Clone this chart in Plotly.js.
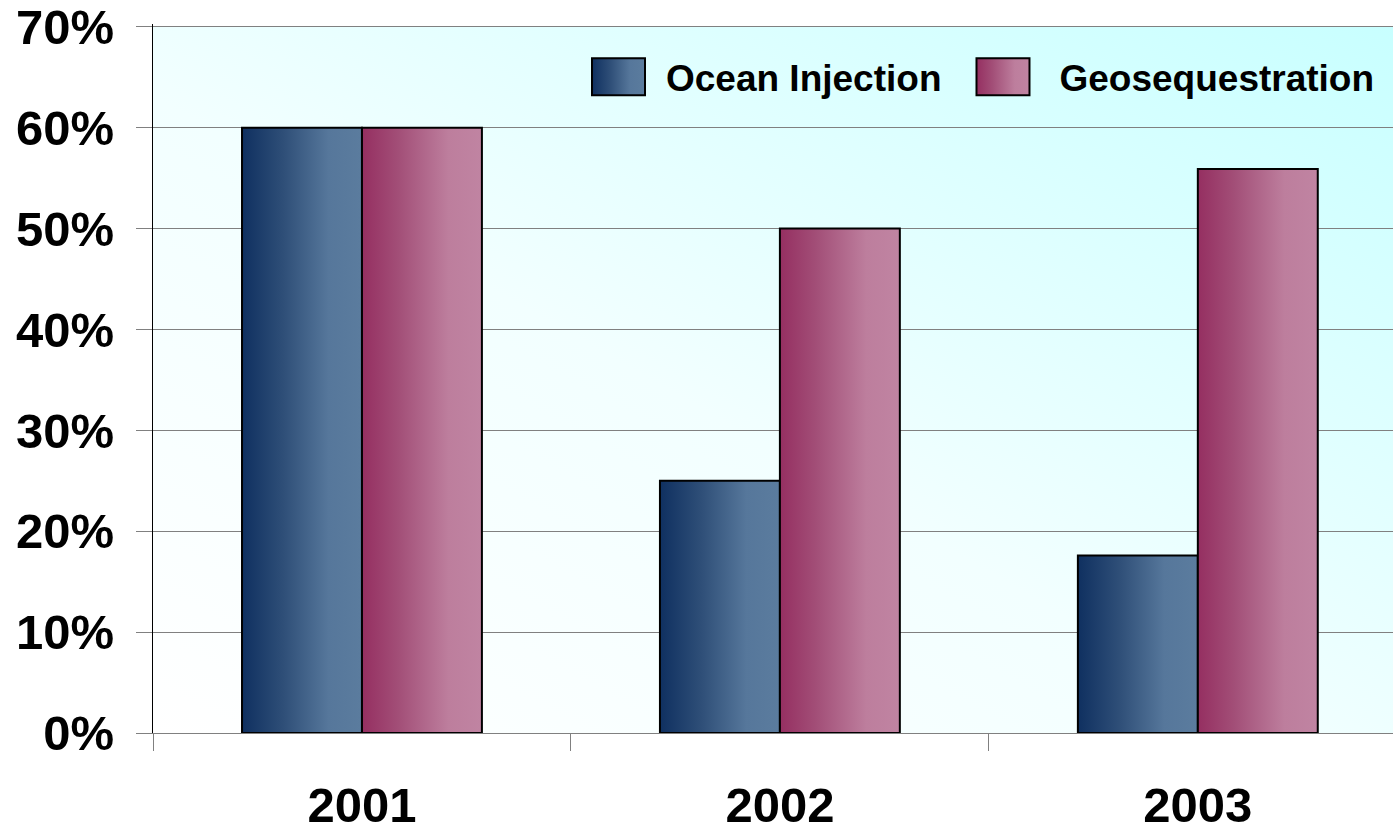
<!DOCTYPE html>
<html>
<head>
<meta charset="utf-8">
<script src="https://cdn.plot.ly/plotly-3.0.1.min.js"></script>
<style>
html,body{margin:0;padding:0;background:#fff;}
#chart{width:1393px;height:833px;}
</style>
</head>
<body>
<div id="chart"></div>
<script>
var years = ['2001', '2002', '2003'];
var oceanInjection = [0.60, 0.25, 0.176];
var geosequestration = [0.60, 0.50, 0.559];
var seriesNames = ['Ocean Injection', 'Geosequestration'];

var FONT = 'Arial, "Liberation Sans", sans-serif';

var bgSvg = '<svg xmlns="http://www.w3.org/2000/svg" width="100" height="100" viewBox="0 0 100 100" preserveAspectRatio="none">' +
  '<defs><linearGradient id="g" x1="0" y1="1" x2="1" y2="0">' +
  '<stop offset="0" stop-color="#ffffff"/><stop offset="0.45" stop-color="#f2ffff"/><stop offset="1" stop-color="#c8ffff"/>' +
  '</linearGradient></defs><rect x="0" y="0" width="100" height="100" fill="url(#g)"/></svg>';
var bgUri = 'data:image/svg+xml;charset=utf-8,' + encodeURIComponent(bgSvg);

var traces = [
  {type: 'bar', name: seriesNames[0], x: years, y: oceanInjection,
   marker: {color: '#3d5f86', line: {color: '#000', width: 2}}, hoverinfo: 'none'},
  {type: 'bar', name: seriesNames[1], x: years, y: geosequestration,
   marker: {color: '#ad5f85', line: {color: '#000', width: 2}}, hoverinfo: 'none'}
];

var layout = {
  width: 1393, height: 833,
  margin: {l: 153, r: 0, t: 24, b: 100, pad: 0},
  paper_bgcolor: '#ffffff',
  plot_bgcolor: 'rgba(0,0,0,0)',
  barmode: 'group',
  bargap: 0.426,
  bargroupgap: 0,
  font: {family: FONT, color: '#000', weight: 'bold'},
  images: [{
    source: bgUri, xref: 'paper', yref: 'paper', x: 0, y: 0.99718, sizex: 1, sizey: 0.99718,
    xanchor: 'left', yanchor: 'top', sizing: 'stretch', layer: 'below'
  }],
  xaxis: {
    type: 'category', range: [-0.5, 2.467],
    tickson: 'boundaries', ticks: 'outside', ticklen: 17, tickcolor: '#808080', tickwidth: 1,
    showline: true, linecolor: '#808080', linewidth: 1,
    showgrid: false, zeroline: false,
    tickfont: {size: 49, family: FONT, weight: 'bold', color: '#000'},
    ticklabelstandoff: 29, ticklabeloverflow: 'allow'
  },
  yaxis: {
    range: [0, 0.7028], dtick: 0.1, tick0: 0, tickformat: '.0%',
    ticks: 'outside', ticklen: 16, tickcolor: '#808080', tickwidth: 1,
    showline: true, linecolor: '#000', linewidth: 1,
    showgrid: true, gridcolor: '#808080', gridwidth: 1,
    zeroline: false,
    tickfont: {size: 49, family: FONT, weight: 'bold', color: '#000'},
    ticklabelstandoff: 12, ticklabeloverflow: 'allow'
  },
  showlegend: true,
  legend: {
    orientation: 'h', x: 0.9895, xanchor: 'right', y: 0.925, yanchor: 'middle',
    bgcolor: 'rgba(0,0,0,0)', borderwidth: 0,
    font: {size: 37, family: FONT, weight: 'bold', color: '#000'},
    itemwidth: 85, traceorder: 'normal'
  }
};

function svgEl(tag, attrs) {
  var e = document.createElementNS('http://www.w3.org/2000/svg', tag);
  for (var k in attrs) e.setAttribute(k, attrs[k]);
  return e;
}
function addGrad(defs, id, stops, x1, y1, x2, y2) {
  var g = svgEl('linearGradient', {id: id, x1: x1, y1: y1, x2: x2, y2: y2});
  stops.forEach(function (s) {
    g.appendChild(svgEl('stop', {offset: s[0], 'stop-color': s[1]}));
  });
  defs.appendChild(g);
}
function shift(el, dx) {
  var tr = el.getAttribute('transform') || '';
  var m = tr.match(/translate\(\s*([-\d.]+)[ ,]*([-\d.]*)\s*\)/);
  if (m) {
    el.setAttribute('transform', 'translate(' + (parseFloat(m[1]) + dx) + ',' + (m[2] ? m[2] : 0) + ')');
  } else {
    el.setAttribute('transform', 'translate(' + dx + ',0)' + tr);
  }
}

function decorate(gd) {
  var svg = gd.querySelector('svg.main-svg');
  var defs = svg.querySelector('defs');
  if (!defs.querySelector('#gOcean')) {
    addGrad(defs, 'gOcean', [[0, '#0f3060'], [0.35, '#2f4f78'], [0.72, '#56779b'], [1, '#5b7c9e']], 0, 0, 1, 0);
    addGrad(defs, 'gGeo', [[0, '#952f61'], [0.3, '#a24e77'], [0.72, '#bd7e9d'], [1, '#c084a2']], 0, 0, 1, 0);
  }
  var traceGroups = gd.querySelectorAll('.barlayer .trace');
  var grads = ['url(#gOcean)', 'url(#gGeo)'];
  traceGroups.forEach(function (t, i) {
    t.querySelectorAll('path').forEach(function (p) { p.style.fill = grads[i]; });
  });
  var items = gd.querySelectorAll('.legend .traces');
  items.forEach(function (it, i) {
    it.querySelectorAll('.legendpoints path').forEach(function (p) {
      p.setAttribute('d', 'M26.5,18.5H-26.5V-18.5H26.5Z');
      p.style.fill = grads[i];
      p.style.stroke = '#000';
      p.style.strokeWidth = '2px';
    });
    if (i === 0) shift(it, -18);
    if (i === 1) {
      var lp = it.querySelector('.legendpoints');
      if (lp) shift(lp, -9);
    }
  });
}

Plotly.newPlot('chart', traces, layout, {staticPlot: true}).then(function (gd) {
  decorate(gd);
});
</script>
</body>
</html>
